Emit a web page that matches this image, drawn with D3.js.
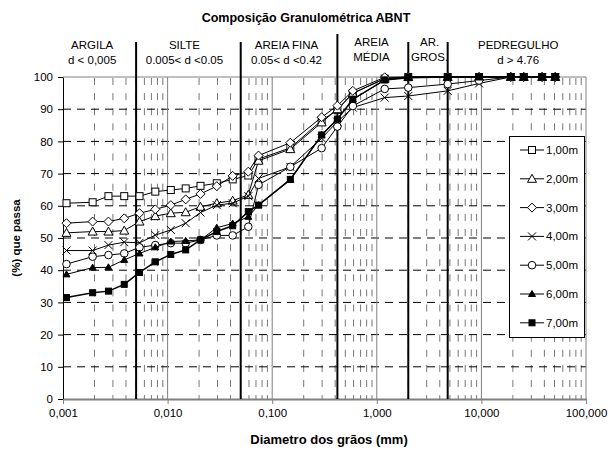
<!DOCTYPE html>
<html>
<head>
<meta charset="utf-8">
<script src="https://cdn.jsdelivr.net/npm/d3@7"></script>
<style>
  body { margin: 0; background: #fff; }
  svg { font-family: "Liberation Sans", Arial, sans-serif; }
</style>
</head>
<body>
<svg id="chart" width="608" height="455"></svg>
<script>
// diametros (mm) das peneiras / sedimentacao
const diam = [0.00108, 0.00192, 0.00272, 0.00385, 0.00539, 0.00763, 0.01073, 0.01489, 0.02063, 0.02953, 0.0419, 0.0591,
              0.074, 0.149, 0.297, 0.42, 0.59, 1.19, 2.0, 4.76, 9.5, 19.1, 25.4, 38.1, 50.8];

const s100 = [60.8, 61.1, 63.0, 63.0, 63.0, 64.4, 64.9, 65.4, 66.2, 67.0, 68.2, 69.4, 74.5, 78.0, 86.5, 89.8, 95.0, 99.5, 100, 100, 100, 100, 100, 100, 100];
const s200 = [51.6, 52.0, 52.0, 52.3, 55.1, 56.8, 57.7, 58.0, 59.7, 60.8, 61.6, 63.4, 74.0, 77.6, 85.9, 90.0, 94.9, 99.5, 100, 100, 100, 100, 100, 100, 100];
const s300 = [54.6, 55.1, 55.1, 56.1, 57.7, 58.9, 60.2, 62.0, 63.7, 66.1, 69.3, 70.6, 75.6, 79.6, 87.5, 91.1, 95.7, 99.9, 100, 100, 100, 100, 100, 100, 100];
const s400 = [46.1, 46.1, 47.8, 48.7, 48.5, 50.9, 52.5, 54.6, 57.9, 60.2, 60.8, 63.0, 68.5, 72.1, 81.0, 86.1, 90.5, 93.6, 94.1, 95.7, 98.0, 100, 100, 100, 100];
const s500 = [41.9, 44.2, 44.7, 45.2, 47.1, 47.8, 48.4, 48.4, 49.4, 50.8, 50.8, 53.5, 66.5, 72.1, 77.9, 84.6, 91.0, 96.3, 96.7, 97.8, 98.9, 100, 100, 100, 100];
const s600 = [38.7, 40.8, 40.9, 43.2, 45.2, 47.1, 48.9, 49.1, 49.4, 53.2, 54.5, 56.6, 60.2, 68.0, 82.0, 87.0, 93.0, 99.0, 100, 100, 100, 100, 100, 100, 100];
const s700 = [31.5, 33.0, 33.5, 35.6, 39.3, 42.6, 44.9, 46.3, 49.4, 52.0, 53.8, 58.2, 60.2, 68.2, 82.0, 86.9, 93.1, 99.1, 99.8, 100, 100, 100, 100, 100, 100];

const seriesNames = ["1,00m", "2,00m", "3,00m", "4,00m", "5,00m", "6,00m", "7,00m"];
const seriesValues = [s100, s200, s300, s400, s500, s600, s700];
const markerTypes = ["square", "triangle", "diamond", "cross", "circle", "triangleFill", "squareFill"];

const xTicks = [0.001, 0.01, 0.1, 1, 10, 100];
const xTickLabels = ["0,001", "0,010", "0,100", "1,000", "10,000", "100,000"];
const yTicks = [0, 10, 20, 30, 40, 50, 60, 70, 80, 90, 100];

// limites das faixas ABNT
const limits = [0.005, 0.05, 0.42, 2.0, 4.76];
const zoneLabels = [
    {d: 0.0019, l1: "ARGILA", l2: "d < 0,005"},
    {d: 0.0145, l1: "SILTE", l2: "0.005< d <0.05"},
    {d: 0.137, l1: "AREIA FINA", l2: "0.05< d <0.42"},
    {d: 0.89, l1: "AREIA", l2: "MÉDIA"},
    {d: 3.2, l1: "AR.", l2: "GROS."},
    {d: 22.5, l1: "PEDREGULHO", l2: "d > 4.76"}
];

const svg = d3.select("#chart");
const margin = {top: 77, right: 22, bottom: 56, left: 63};
const width = 608 - margin.left - margin.right;
const height = 455 - margin.top - margin.bottom;

const x = d3.scaleLog().domain([0.001, 100]).range([margin.left, margin.left + width]);
const y = d3.scaleLinear().domain([0, 100]).range([margin.top + height, margin.top]);

// title
svg.append("text")
    .attr("x", 306).attr("y", 22)
    .attr("text-anchor", "middle")
    .attr("font-size", 12.5).attr("font-weight", "bold")
    .text("Composição Granulométrica ABNT");

// grid - minor verticals
const minor = [];
for (let e = -3; e < 2; e++) {
    for (let k = 2; k <= 9; k++) minor.push(k * Math.pow(10, e));
}
svg.append("g").selectAll("line")
    .data(minor)
    .enter().append("line")
    .attr("x1", d => x(d)).attr("x2", d => x(d))
    .attr("y1", y(100)).attr("y2", y(0))
    .attr("stroke", "#777").attr("stroke-width", 1)
    .attr("stroke-dasharray", "7,8.1")
    .attr("stroke-dashoffset", -1);

// horizontal dashed grid
svg.append("g").selectAll("line")
    .data(yTicks.filter(v => v > 0 && v < 100))
    .enter().append("line")
    .attr("x1", x(0.001)).attr("x2", x(100))
    .attr("y1", d => y(d)).attr("y2", d => y(d))
    .attr("stroke", "#000").attr("stroke-width", 1)
    .attr("stroke-dasharray", "8,6");

// decade lines
svg.append("g").selectAll("line")
    .data([0.01, 0.1, 1, 10, 100])
    .enter().append("line")
    .attr("x1", d => x(d)).attr("x2", d => x(d))
    .attr("y1", y(100)).attr("y2", y(0))
    .attr("stroke", "#808080").attr("stroke-width", 1);

// top border
svg.append("line")
    .attr("x1", x(0.001)).attr("x2", x(100))
    .attr("y1", y(100)).attr("y2", y(100))
    .attr("stroke", "#808080");

// axes
const yAxis = svg.append("g")
    .attr("transform", `translate(${margin.left},0)`)
    .call(d3.axisLeft(y).tickValues(yTicks).tickSize(5).tickSizeOuter(0));
const xAxis = svg.append("g")
    .attr("transform", `translate(0,${margin.top + height})`)
    .call(d3.axisBottom(x).tickValues(xTicks).tickFormat((d, i) => xTickLabels[i]).tickSize(5).tickSizeOuter(0));

yAxis.select(".domain").attr("stroke", "#000");
yAxis.selectAll(".tick line").attr("stroke", "#000");
yAxis.selectAll(".tick text").attr("font-size", 11.5).attr("fill", "#000")
    .attr("font-family", "Liberation Sans, Arial, sans-serif").attr("x", -10);
xAxis.select(".domain").attr("stroke", "#808080").attr("stroke-width", 2);
xAxis.selectAll(".tick line").attr("stroke", "#808080");
xAxis.selectAll(".tick text").attr("font-size", 11.5).attr("fill", "#000")
    .attr("font-family", "Liberation Sans, Arial, sans-serif").attr("y", 10);

// zone limit lines
svg.append("g").selectAll("line")
    .data(limits)
    .enter().append("line")
    .attr("x1", d => x(d)).attr("x2", d => x(d))
    .attr("y1", d => d === 0.42 ? 34 : 42).attr("y2", y(0))
    .attr("stroke", "#000").attr("stroke-width", 2);

// zone labels
const zl = svg.append("g").attr("font-size", 11.5).attr("text-anchor", "middle");
zoneLabels.forEach(z => {
    const top = (z.l1 === "AREIA" || z.l1 === "AR.") ? 46 : 49;
    zl.append("text").attr("x", x(z.d)).attr("y", top).text(z.l1);
    zl.append("text").attr("x", x(z.d)).attr("y", top + 14.5).text(z.l2);
});

// axis titles
svg.append("text")
    .attr("transform", "translate(20,238) rotate(-90)")
    .attr("text-anchor", "middle")
    .attr("font-size", 11.5).attr("font-weight", "bold")
    .text("(%) que passa");
svg.append("text")
    .attr("x", 329).attr("y", 444)
    .attr("text-anchor", "middle")
    .attr("font-size", 13).attr("font-weight", "bold")
    .text("Diametro dos grãos (mm)");

function drawMarker(g, type, cx, cy) {
    if (type === "square") {
        g.append("rect").attr("x", cx - 3.5).attr("y", cy - 3.5).attr("width", 7).attr("height", 7)
            .attr("fill", "#fff").attr("stroke", "#000");
    } else if (type === "squareFill") {
        g.append("rect").attr("x", cx - 3).attr("y", cy - 3).attr("width", 6).attr("height", 6)
            .attr("fill", "#000").attr("stroke", "#000");
    } else if (type === "triangle") {
        g.append("path").attr("d", `M${cx},${cy - 4.5}L${cx + 4.5},${cy + 3.5}L${cx - 4.5},${cy + 3.5}Z`)
            .attr("fill", "#fff").attr("stroke", "#000");
    } else if (type === "triangleFill") {
        g.append("path").attr("d", `M${cx},${cy - 3.5}L${cx + 3.5},${cy + 2.5}L${cx - 3.5},${cy + 2.5}Z`)
            .attr("fill", "#000").attr("stroke", "#000");
    } else if (type === "diamond") {
        g.append("path").attr("d", `M${cx},${cy - 4.5}L${cx + 4.5},${cy}L${cx},${cy + 4.5}L${cx - 4.5},${cy}Z`)
            .attr("fill", "#fff").attr("stroke", "#000");
    } else if (type === "circle") {
        g.append("circle").attr("cx", cx).attr("cy", cy).attr("r", 3.8)
            .attr("fill", "#fff").attr("stroke", "#000");
    } else if (type === "cross") {
        g.append("path").attr("d", `M${cx - 4},${cy - 4}L${cx + 4},${cy + 4}M${cx - 4},${cy + 4}L${cx + 4},${cy - 4}`)
            .attr("stroke", "#000").attr("fill", "none");
    }
}

// series
const line = d3.line().x(d => x(d[0])).y(d => y(d[1]));
seriesValues.forEach((vals, i) => {
    const pts = diam.map((d, j) => [d, vals[j]]);
    const g = svg.append("g");
    g.append("path").datum(pts).attr("d", line)
        .attr("fill", "none").attr("stroke", "#000").attr("stroke-width", i === 6 ? 1.5 : 1);
    pts.forEach(p => drawMarker(g, markerTypes[i], x(p[0]), y(p[1])));
});

// legend
const lg = svg.append("g");
lg.append("rect").attr("x", 509.5).attr("y", 136.5).attr("width", 75).attr("height", 201)
    .attr("fill", "#fff").attr("stroke", "#000");
seriesNames.forEach((name, i) => {
    const ly = 150 + i * 28.8;
    lg.append("line").attr("x1", 520).attr("x2", 544).attr("y1", ly).attr("y2", ly).attr("stroke", "#000");
    drawMarker(lg, markerTypes[i], 532, ly);
    lg.append("text").attr("x", 546).attr("y", ly + 4).attr("font-size", 11.5).text(name);
});
</script>
</body>
</html>
